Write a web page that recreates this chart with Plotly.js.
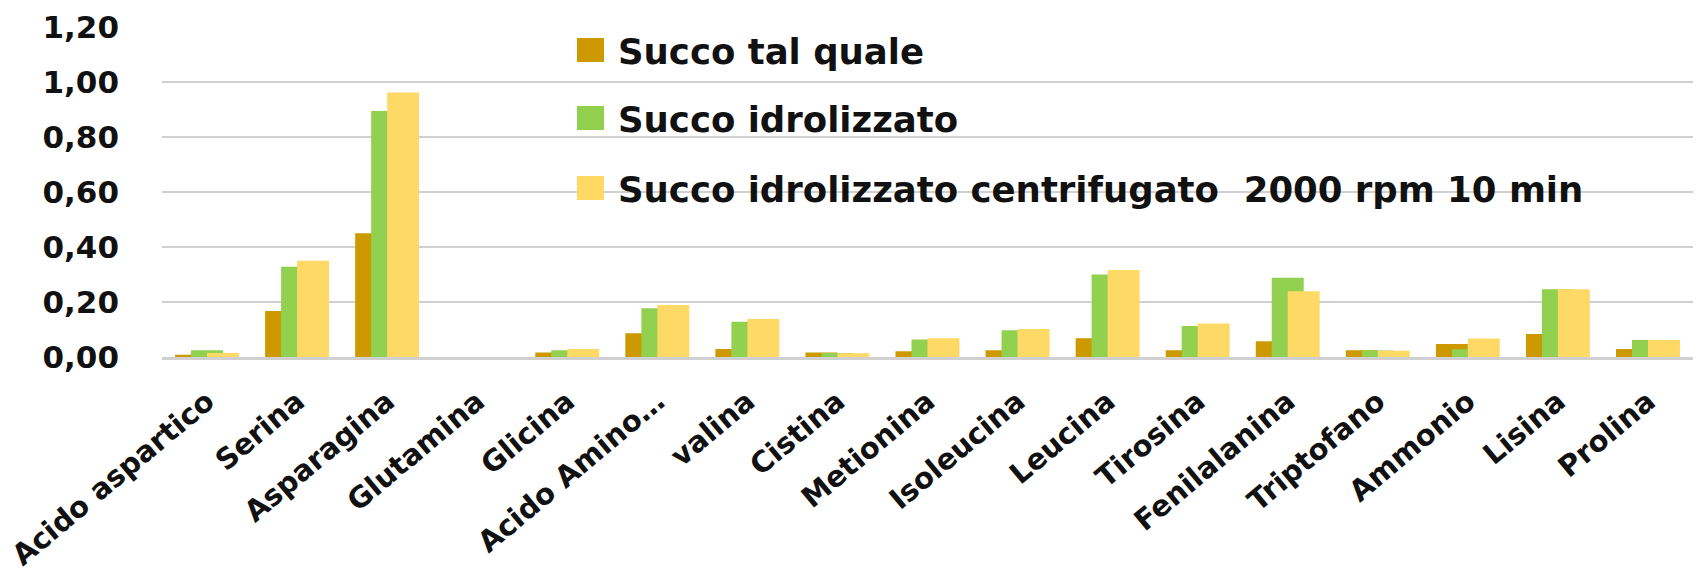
<!DOCTYPE html>
<html>
<head>
<meta charset="utf-8">
<script src="https://cdn.plot.ly/plotly-3.0.1.min.js"></script>
<style>
html,body{margin:0;padding:0;background:#fff;}
#chart{width:1696px;height:580px;}
</style>
</head>
<body>
<div id="chart"></div>
<script>
// ---- data ----
const categories = ["Acido aspartico","Serina","Asparagina","Glutamina","Glicina","Acido Amino…","valina","Cistina","Metionina","Isoleucina","Leucina","Tirosina","Fenilalanina","Triptofano","Ammonio","Lisina","Prolina"];
const seriesNames = ["Succo tal quale","Succo idrolizzato","Succo idrolizzato centrifugato  2000 rpm 10 min"];
const succoTalQuale      = [0.008,0.167,0.450,0,0.016,0.086,0.029,0.016,0.021,0.025,0.068,0.025,0.057,0.025,0.047,0.084,0.029];
const succoIdrolizzato   = [0.025,0.328,0.895,0,0.025,0.177,0.128,0.015,0.064,0.097,0.300,0.113,0.288,0.024,0.028,0.246,0.062];
const succoCentrifugato  = [0.015,0.350,0.962,0,0.029,0.189,0.138,0.014,0.068,0.102,0.316,0.122,0.239,0.023,0.067,0.246,0.062];
const yTicks = [0,0.2,0.4,0.6,0.8,1.0,1.2];

// ---- style ----
const colors = ["#CC9900","#92D050","#FFD966"];
const FONT = "DejaVu Sans, sans-serif";
const W = 1696, H = 580;
const M = {l:162, r:3, t:27, b:223};
const BW = 0.355; // bar width in category units (overlapping bars)
const offsets = [-BW, -BW/2, 0];

const values = [succoTalQuale, succoIdrolizzato, succoCentrifugato];
const traces = values.map((v,i)=>({
  type:'bar', x:categories, y:v, name:seriesNames[i],
  marker:{color:colors[i], line:{width:0}},
  width:BW, offset:offsets[i], showlegend:false, hoverinfo:'x+y+name'
}));

// manual legend (large squares like the original)
const pw = W - M.l - M.r, ph = H - M.t - M.b;
const px2x = p => (p - M.l)/pw;
const py2y = p => (H - M.b - p)/ph;
const legendCentersPx = [50, 118, 188];
const shapes = [], annotations = [];
seriesNames.forEach((n,i)=>{
  const cy = legendCentersPx[i];
  shapes.push({type:'rect', xref:'paper', yref:'paper',
    x0:px2x(577), x1:px2x(604), y0:py2y(cy+12), y1:py2y(cy-12),
    fillcolor:colors[i], line:{width:0}, layer:'above'});
  annotations.push({xref:'paper', yref:'paper', x:px2x(616), y:py2y(cy+1),
    xanchor:'left', yanchor:'middle', showarrow:false, text:n,
    font:{family:FONT, size:35.5, color:'#111', weight:'bold'}});
});

const layout = {
  width:W, height:H, margin:M,
  paper_bgcolor:'#fff', plot_bgcolor:'#fff',
  separators:',.',
  barmode:'overlay',
  showlegend:false,
  font:{family:FONT, color:'#111'},
  xaxis:{type:'category', tickangle:-40, showgrid:false, ticks:'',
    ticklabelstandoff:13,
    tickfont:{family:FONT, size:29, color:'#111', weight:'bold'},
    showline:true, linecolor:'#d0d0d0', linewidth:3, zeroline:false,
    range:[-0.5, categories.length-0.5]},
  yaxis:{range:[0,1.2], tickvals:yTicks, tickformat:'.2f', showgrid:true,
    gridcolor:'#d0d0d0', gridwidth:2.5, zeroline:false, showline:false, ticks:'',
    ticklabelstandoff:42,
    tickfont:{family:FONT, size:31, color:'#111', weight:'bold'}},
  shapes:shapes, annotations:annotations
};

Plotly.newPlot('chart', traces, layout, {displayModeBar:false, staticPlot:true});
</script>
</body>
</html>
